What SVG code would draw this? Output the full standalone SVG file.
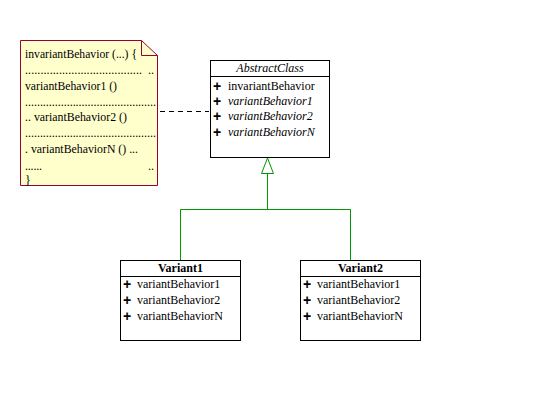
<svg xmlns="http://www.w3.org/2000/svg" width="541" height="402" viewBox="0 0 541 402">
<style>
.t{font-family:"Liberation Serif","Times New Roman",serif;font-size:12px;fill:#000}
.i{font-style:italic}
.b{font-weight:bold}
.p{font-family:"Liberation Sans",Arial,sans-serif;font-size:14px;font-weight:bold;fill:#000}
.box{fill:#fff;stroke:#000;stroke-width:1}
.g{stroke:#009900;stroke-width:1;fill:none}
</style>
<rect width="541" height="402" fill="#fff"/>
<g id="note">
<path d="M20.5,40.5 H141.5 L157.5,55.5 V185.5 H20.5 Z" fill="#FFFFCC" stroke="#990033"/>
<path d="M141.5,40.5 V55.5 H157.5" fill="none" stroke="#990033"/>
<text class="t" x="25" y="58" textLength="112" lengthAdjust="spacingAndGlyphs">invariantBehavior (...) {</text>
<text class="t" x="25" y="74" textLength="117" lengthAdjust="spacing">......................................</text>
<text class="t" x="148" y="74">..</text>
<text class="t" x="25" y="90" textLength="92" lengthAdjust="spacingAndGlyphs">variantBehavior1 ()</text>
<text class="t" x="25" y="106" textLength="131" lengthAdjust="spacing">............................................</text>
<text class="t" x="25" y="121" textLength="102" lengthAdjust="spacingAndGlyphs">.. variantBehavior2 ()</text>
<text class="t" x="25" y="137" textLength="131" lengthAdjust="spacing">............................................</text>
<text class="t" x="25" y="153" textLength="113" lengthAdjust="spacingAndGlyphs">. variantBehaviorN () ...</text>
<text class="t" x="25" y="170" textLength="17" lengthAdjust="spacing">......</text>
<text class="t" x="148" y="170">..</text>
<text class="t" x="25" y="184">}</text>
</g>
<g id="AbstractClass">
<rect class="box" x="210.5" y="60.5" width="119" height="97"/>
<line x1="210" y1="76.5" x2="330" y2="76.5" stroke="#000"/>
<text class="t i" x="270" y="72" text-anchor="middle">AbstractClass</text>
<text class="p" x="213" y="91">+</text><text class="t" x="228" y="90">invariantBehavior</text>
<text class="p" x="213" y="106">+</text><text class="t i" x="228" y="105">variantBehavior1</text>
<text class="p" x="213" y="121">+</text><text class="t i" x="228" y="120">variantBehavior2</text>
<text class="p" x="213" y="137">+</text><text class="t i" x="228" y="136">variantBehaviorN</text>
</g>
<g id="Variant1">
<rect class="box" x="120.5" y="260.5" width="120" height="80"/>
<line x1="120" y1="276.5" x2="241" y2="276.5" stroke="#000"/>
<text class="t b" x="180.5" y="272" text-anchor="middle">Variant1</text>
<text class="p" x="123" y="289">+</text><text class="t" x="137" y="288">variantBehavior1</text>
<text class="p" x="123" y="305">+</text><text class="t" x="137" y="304">variantBehavior2</text>
<text class="p" x="123" y="321">+</text><text class="t" x="137" y="320">variantBehaviorN</text>
</g>
<g id="Variant2">
<rect class="box" x="300.5" y="260.5" width="120" height="80"/>
<line x1="300" y1="276.5" x2="421" y2="276.5" stroke="#000"/>
<text class="t b" x="360.5" y="272" text-anchor="middle">Variant2</text>
<text class="p" x="303" y="289">+</text><text class="t" x="317" y="288">variantBehavior1</text>
<text class="p" x="303" y="305">+</text><text class="t" x="317" y="304">variantBehavior2</text>
<text class="p" x="303" y="321">+</text><text class="t" x="317" y="320">variantBehaviorN</text>
</g>
<g id="connectors">
<line x1="160" y1="111.5" x2="209" y2="111.5" stroke="#000" stroke-dasharray="5,4"/>
<path class="g" d="M267.5,158 L273.5,173.5 H261.5 Z" fill="#fff"/>
<path class="g" d="M267.5,173.5 V209.5 M180.5,260 V209.5 H350.5 V260"/>
</g>
</svg>
